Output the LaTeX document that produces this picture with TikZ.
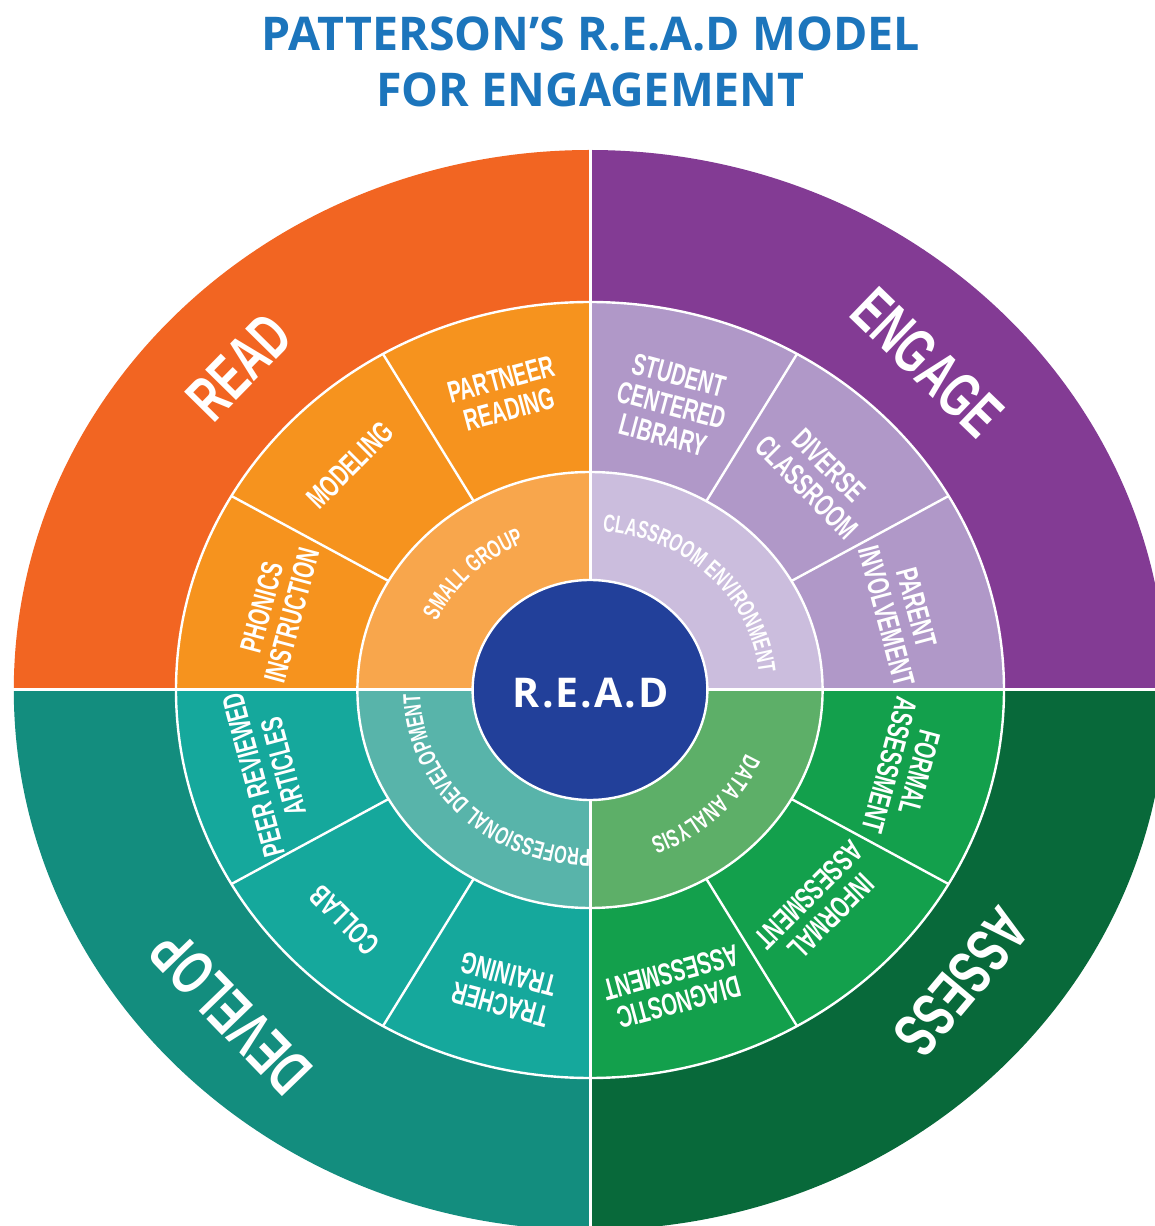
\documentclass[tikz,border=0pt]{standalone}
\usepackage{fontspec}
\setmainfont{Liberation Sans}
\newfontfamily\condfont[FakeStretch=0.66]{Liberation Sans}
\newfontfamily\headfont{Open Sans}
\usetikzlibrary{decorations.text}

% palette
\definecolor{titleblue}{RGB}{28,117,188}
\definecolor{coreblue}{RGB}{34,64,154}
\definecolor{readO}{RGB}{242,101,34}
\definecolor{readM}{RGB}{246,147,30}
\definecolor{readI}{RGB}{248,166,76}
\definecolor{engO}{RGB}{131,59,148}
\definecolor{engM}{RGB}{176,152,200}
\definecolor{engI}{RGB}{203,189,221}
\definecolor{devO}{RGB}{19,141,126}
\definecolor{devM}{RGB}{21,168,156}
\definecolor{devI}{RGB}{88,180,170}
\definecolor{assO}{RGB}{8,105,58}
\definecolor{assM}{RGB}{19,160,76}
\definecolor{assI}{RGB}{93,175,104}

\newcommand\rlabelfont{\condfont\bfseries\fontsize{24.5}{24.5}\selectfont}
% text set along an elliptical arc, read clockwise, letter tops outward
\newcommand\ringtext[3]{%
  \path[decorate, decoration={text along path, text align=center,
        text color=white, text={|\rlabelfont|#3}}]
    (#1:170 and 159) arc[start angle=#1, end angle=#2, x radius=170, y radius=159];}

\tikzset{
  ringline/.style={white, line width=2.4pt},
  crossline/.style={white, line width=3pt},
  bigword/.style={text=white, inner sep=0pt,
    font=\condfont\bfseries\fontsize{63}{63}\selectfont},
  subword/.style={text=white, inner sep=0pt, align=center,
    font=\condfont\bfseries\fontsize{30.5}{31}\selectfont},
  headline/.style={text=titleblue, inner sep=0pt,
    font=\headfont\bfseries\fontsize{46.5}{46.5}\selectfont},
}

\begin{document}
\begin{tikzpicture}[x=1pt,y=1pt]
\useasboundingbox (-590,-536) rectangle (565,690);
\fill[white] (-590,-536) rectangle (565,690);
\clip (-590,-536) rectangle (565,690);

% title
\node[headline] (title1) at (1,656.5) {PATTERSON’S R.E.A.D MODEL};
\node[headline] (title2) at (0.5,600.5) {FOR ENGAGEMENT};

% quadrant wedges: outer band, middle band, inner band
\foreach \a/\co/\cm/\ci in {90/readO/readM/readI, 0/engO/engM/engI,
                            180/devO/devM/devI, 270/assO/assM/assI}{
  \fill[\co] (0,0) -- (\a:576.2 and 540)
    arc[start angle=\a, delta angle=90, x radius=576.2, y radius=540] -- cycle;
  \fill[\cm] (0,0) -- (\a:414 and 388)
    arc[start angle=\a, delta angle=90, x radius=414, y radius=388] -- cycle;
  \fill[\ci] (0,0) -- (\a:232.6 and 218)
    arc[start angle=\a, delta angle=90, x radius=232.6, y radius=218] -- cycle;
}

% white separators
\draw[ringline] (0,0) ellipse[x radius=414, y radius=388];
\draw[ringline] (0,0) ellipse[x radius=232.6, y radius=218];
\foreach \t in {30,60,120,150,210,240,300,330}
  \draw[ringline] (\t:232.6 and 218) -- (\t:414 and 388);
\draw[crossline] (0,-560) -- (0,560);
\draw[crossline] (-600,0) -- (600,0);

% core
\fill[coreblue, draw=white, line width=2.4pt] (0,0) ellipse[x radius=117.4, y radius=110];
\node[text=white, inner sep=0pt,
      font=\headfont\bfseries\fontsize{41}{41}\selectfont\addfontfeature{LetterSpace=5}]
  (core) at (1,-3.5) {R.E.A.D};

% outer band words
\node[bigword, rotate=45.5] (read)    at (135.5:491.9 and 461) {READ};
\node[bigword, rotate=-44]  (engage)  at (46:485.5 and 455) {ENGAGE};
\node[bigword, rotate=134]  (develop) at (224:499.4 and 464) {DEVELOP};
\node[bigword, rotate=230]  (assess)  at (320:485.5 and 455) {ASSESS};

% middle band words
\node[subword, rotate=75]  (phonics)  at (165:324.4 and 304) {PHONICS\\INSTRUCTION};
\node[subword, rotate=45]  (modeling) at (135:339.3 and 318) {MODELING};
\node[subword, rotate=15]  (partner)  at (105:326.5 and 306) {PARTNEER\\READING};
\node[subword, rotate=-15] (library)  at (75:314.8 and 295) {STUDENT\\CENTERED\\LIBRARY};
\node[subword, rotate=-45] (diverse)  at (45:322.2 and 302) {DIVERSE\\CLASSROOM};
\node[subword, rotate=-75] (parent)   at (15:322.2 and 302) {PARENT\\INVOLVEMENT};
\node[subword, rotate=105] (peer)     at (195:332.9 and 312) {PEER REVIEWED\\ARTICLES};
\node[subword, rotate=135] (collab)   at (225:346.8 and 325) {COLLAB};
\node[subword, rotate=165] (training) at (255:330.8 and 310) {TRACHER\\TRAINING};
\node[subword, rotate=195] (diag)     at (285:328.6 and 308) {DIAGNOSTIC\\ASSESSMENT};
\node[subword, rotate=225] (informal) at (315:325.4 and 305) {INFORMAL\\ASSESSMENT};
\node[subword, rotate=255] (formal)   at (345:325.4 and 305) {FORMAL\\ASSESSMENT};

% inner band words along the arc
\ringtext{205}{65}{SMALL GROUP}
\ringtext{115}{-25}{CLASSROOM ENVIRONMENT}
\ringtext{295}{155}{PROFESSIONAL DEVELOPMENT}
\ringtext{25}{-115}{DATA ANALYSIS}
\end{tikzpicture}
\end{document}
